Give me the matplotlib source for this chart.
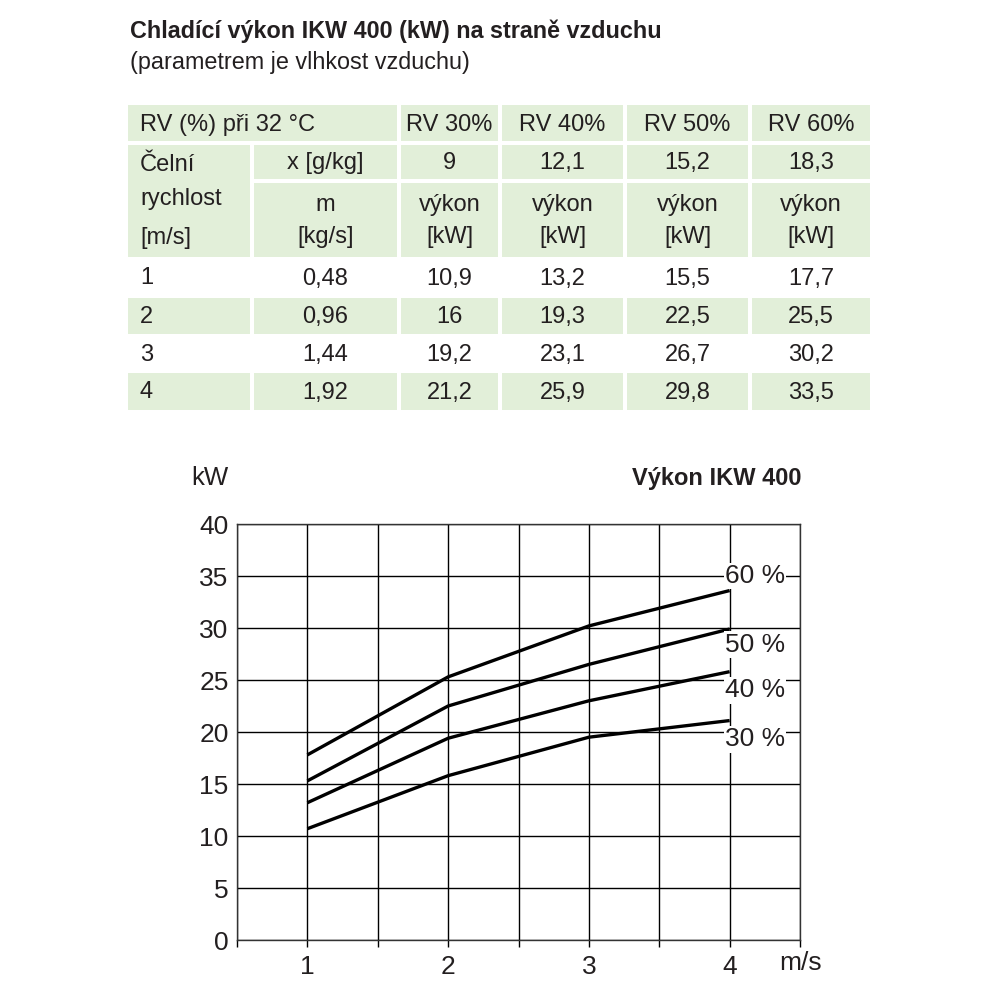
import matplotlib.pyplot as plt
from matplotlib.patches import Rectangle

plt.rcParams['font.family'] = ['Liberation Sans', 'DejaVu Sans']

# table data
rv_header = ['RV 30%', 'RV 40%', 'RV 50%', 'RV 60%']
x_gkg = ['9', '12,1', '15,2', '18,3']
speeds = ['1', '2', '3', '4']
mass_flow = ['0,48', '0,96', '1,44', '1,92']
table_kw = [[10.9, 13.2, 15.5, 17.7],
            [16, 19.3, 22.5, 25.5],
            [19.2, 23.1, 26.7, 30.2],
            [21.2, 25.9, 29.8, 33.5]]

# chart data
speed = [1, 2, 3, 4]
curve_30 = [10.7, 15.8, 19.5, 21.1]
curve_40 = [13.2, 19.4, 23.0, 25.8]
curve_50 = [15.3, 22.5, 26.5, 29.9]
curve_60 = [17.8, 25.3, 30.2, 33.6]
curve_names = ['30 %', '40 %', '50 %', '60 %']
label_y = [19.3, 24.0, 28.4, 35.0]

green = '#e2efd9'
txt = '#231f20'


def fmt(v):
    s = ('%g' % v)
    return s.replace('.', ',')


fig = plt.figure(figsize=(10, 10), dpi=100)
bg = fig.add_axes([0, 0, 1, 1])
bg.set_xlim(0, 1000)
bg.set_ylim(1000, 0)
bg.axis('off')

bg.text(130, 31, 'Chladící výkon IKW 400 (kW) na straně vzduchu', fontsize=16.8,
        fontweight='bold', color=txt, va='center')
bg.text(130, 62, '(parametrem je vlhkost vzduchu)', fontsize=16.8, color=txt, va='center')

# column edges and row edges (pixels)
cols = [(128, 250), (254, 397), (401, 498), (502, 623), (627, 748), (752, 870)]
rows = [(105, 141), (145, 179), (183, 257), (259, 296), (298, 334), (336, 372), (373, 410)]


def cell(c0, c1, r0, r1):
    x0 = cols[c0][0]
    x1 = cols[c1][1]
    y0 = rows[r0][0]
    y1 = rows[r1][1]
    bg.add_patch(Rectangle((x0, y0), x1 - x0, y1 - y0, facecolor=green, edgecolor='none'))


def ctr(c):
    return (cols[c][0] + cols[c][1]) / 2


def mid(r):
    return (rows[r][0] + rows[r][1]) / 2


fs = 17
cell(0, 1, 0, 0)
for c in range(2, 6):
    cell(c, c, 0, 0)
    cell(c, c, 1, 1)
    cell(c, c, 2, 2)
cell(0, 0, 1, 2)
cell(1, 1, 1, 1)
cell(1, 1, 2, 2)
for r in (4, 6):
    for c in range(6):
        cell(c, c, r, r)

bg.text(140, mid(0) + 2, 'RV (%) při 32 °C', fontsize=fs, color=txt, va='center')
for i, h in enumerate(rv_header):
    bg.text(ctr(i + 2), mid(0) + 2, h, fontsize=fs, color=txt, va='center', ha='center')
    bg.text(ctr(i + 2), mid(1) + 1, x_gkg[i], fontsize=fs, color=txt, va='center', ha='center')
    bg.text(ctr(i + 2), 205, 'výkon', fontsize=fs, color=txt, va='center', ha='center')
    bg.text(ctr(i + 2), 237, '[kW]', fontsize=fs, color=txt, va='center', ha='center')
bg.text(140, 165, 'Čelní', fontsize=fs, color=txt, va='center')
bg.text(140, 199, 'rychlost', fontsize=fs, color=txt, va='center')
bg.text(140, 238, '[m/s]', fontsize=fs, color=txt, va='center')
bg.text(ctr(1), mid(1) + 1, 'x [g/kg]', fontsize=fs, color=txt, va='center', ha='center')
bg.text(ctr(1), 205, 'm', fontsize=fs, color=txt, va='center', ha='center')
bg.text(ctr(1), 237, '[kg/s]', fontsize=fs, color=txt, va='center', ha='center')
for j in range(4):
    r = j + 3
    bg.text(140, mid(r) + 1, speeds[j], fontsize=fs, color=txt, va='center')
    bg.text(ctr(1), mid(r) + 1, mass_flow[j], fontsize=fs, color=txt, va='center', ha='center')
    for i in range(4):
        bg.text(ctr(i + 2), mid(r) + 1, fmt(table_kw[j][i]), fontsize=fs, color=txt,
                va='center', ha='center')

# chart
ax = fig.add_axes([0.237, 0.06, 0.563, 0.416])
ax.set_xlim(0.5, 4.5)
ax.set_ylim(0, 40)
ax.set_xticks([1, 2, 3, 4])
ax.set_xticks([0.5, 1.5, 2.5, 3.5, 4.5], minor=True)
ax.set_yticks(range(0, 41, 5))
ax.grid(True, which='both', color='black', linewidth=1.0)
for s in ax.spines.values():
    s.set_linewidth(1.0)
    s.set_color('#333333')
ax.tick_params(axis='x', which='both', length=5, width=1, labelsize=19, labelcolor=txt, pad=6)
ax.tick_params(axis='y', length=0, labelsize=19, labelcolor=txt, pad=6)

for name, ys, ly in zip(curve_names, [curve_30, curve_40, curve_50, curve_60], label_y):
    ax.plot(speed, ys, color='black', linewidth=2.4, solid_capstyle='butt', zorder=3)
    ax.text(4.18, ly, name, fontsize=19, color=txt, ha='center', va='center', zorder=4,
            bbox=dict(facecolor='white', edgecolor='none', pad=1))

fig.text(0.191, 0.522, 'kW', fontsize=18.5, color=txt, va='center')
fig.text(0.802, 0.522, 'Výkon IKW 400', fontsize=17, color=txt, fontweight='bold',
         va='center', ha='right')
fig.text(0.779, 0.037, 'm/s', fontsize=19, color=txt, va='center')

fig.savefig('out.png', dpi=100)
